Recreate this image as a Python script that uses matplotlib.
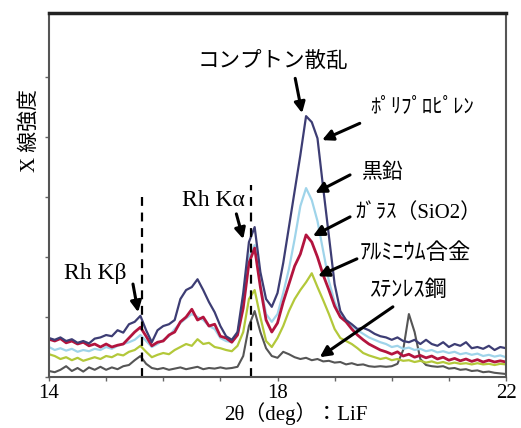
import numpy as np
import matplotlib.pyplot as plt

# ---------------- data ----------------
two_theta = np.round(np.arange(14.0, 22.01, 0.1), 1)

polypropylene = [0.65, 0.62, 0.66, 0.60, 0.63, 0.57, 0.60, 0.56, 0.64, 0.66,
                 0.70, 0.68, 0.78, 0.74, 0.88, 0.92, 1.02, 0.78, 0.58, 0.78,
                 0.85, 0.88, 0.95, 1.30, 1.45, 1.50, 1.63, 1.45, 1.25, 1.08,
                 0.85, 0.68, 0.62, 0.75, 1.40, 2.25, 2.50, 1.75, 1.30, 1.17,
                 1.40, 1.90, 2.50, 3.10, 3.70, 4.35, 4.25, 3.98, 3.15, 2.35,
                 1.55, 1.10, 0.95, 0.88, 0.80, 0.82, 0.78, 0.72, 0.68, 0.66,
                 0.62, 0.66, 0.60, 0.58, 0.62, 0.55, 0.62, 0.55, 0.52, 0.58,
                 0.50, 0.55, 0.52, 0.58, 0.48, 0.50, 0.47, 0.52, 0.45, 0.50,
                 0.48]

graphite = [0.50, 0.45, 0.48, 0.44, 0.47, 0.42, 0.45, 0.43, 0.47, 0.45,
            0.50, 0.47, 0.52, 0.55, 0.58, 0.62, 0.70, 0.60, 0.50, 0.55,
            0.62, 0.68, 0.80, 0.90, 0.98, 1.05, 1.00, 0.95, 0.85, 0.80,
            0.65, 0.60, 0.58, 0.72, 1.25, 2.00, 2.20, 1.55, 1.05, 0.92,
            1.05, 1.40, 1.80, 2.30, 2.85, 3.15, 2.95, 2.60, 2.10, 1.60,
            1.25, 1.05, 0.95, 0.85, 0.78, 0.72, 0.66, 0.62, 0.58, 0.55,
            0.50, 0.52, 0.47, 0.49, 0.45, 0.47, 0.43, 0.45, 0.41, 0.43,
            0.40, 0.42, 0.38, 0.40, 0.37, 0.39, 0.35, 0.37, 0.34, 0.36,
            0.33]

glass = [0.63, 0.60, 0.64, 0.57, 0.60, 0.55, 0.58, 0.52, 0.55, 0.50,
         0.55, 0.50, 0.53, 0.55, 0.65, 0.75, 0.83, 0.68, 0.52, 0.58,
         0.60, 0.70, 0.75, 0.92, 1.00, 1.13, 0.95, 1.00, 0.85, 0.88,
         0.68, 0.65, 0.58, 0.70, 1.15, 1.90, 2.15, 1.50, 0.95, 0.75,
         0.90, 1.25, 1.55, 1.85, 2.05, 2.37, 2.25, 2.00, 1.70, 1.45,
         1.18, 1.00, 0.92, 0.80, 0.70, 0.62, 0.55, 0.50, 0.45, 0.42,
         0.38, 0.42, 0.35, 0.38, 0.33, 0.36, 0.32, 0.35, 0.30, 0.33,
         0.28, 0.31, 0.27, 0.30, 0.26, 0.29, 0.25, 0.28, 0.25, 0.27,
         0.25]

aluminium = [0.38, 0.35, 0.30, 0.33, 0.28, 0.32, 0.27, 0.30, 0.33, 0.30,
             0.35, 0.33, 0.38, 0.36, 0.42, 0.45, 0.52, 0.42, 0.33, 0.37,
             0.40, 0.38, 0.45, 0.50, 0.55, 0.52, 0.63, 0.55, 0.57, 0.50,
             0.48, 0.45, 0.43, 0.52, 0.75, 1.30, 1.45, 1.00, 0.60, 0.50,
             0.65, 0.85, 1.10, 1.30, 1.45, 1.58, 1.73, 1.50, 1.28, 1.05,
             0.80, 0.65, 0.60, 0.55, 0.48, 0.40, 0.36, 0.33, 0.30, 0.32,
             0.28, 0.30, 0.27, 0.28, 0.25, 0.27, 0.24, 0.26, 0.23, 0.25,
             0.22, 0.24, 0.22, 0.23, 0.21, 0.23, 0.21, 0.22, 0.20, 0.22,
             0.21]

stainless = [0.10, 0.08, 0.12, 0.18, 0.10, 0.15, 0.09, 0.16, 0.12, 0.17,
             0.12, 0.16, 0.13, 0.18, 0.20, 0.28, 0.35, 0.22, 0.15, 0.13,
             0.15, 0.12, 0.14, 0.16, 0.13, 0.15, 0.17, 0.13, 0.15, 0.14,
             0.16, 0.14, 0.15, 0.17, 0.35, 0.85, 1.10, 0.75, 0.48, 0.35,
             0.32, 0.42, 0.38, 0.33, 0.30, 0.32, 0.28, 0.30, 0.26, 0.27,
             0.24, 0.25, 0.21, 0.23, 0.20, 0.21, 0.18, 0.17, 0.18, 0.17,
             0.18, 0.22, 0.45, 1.05, 0.75, 0.30, 0.20, 0.18, 0.17, 0.18,
             0.14, 0.15, 0.12, 0.13, 0.10, 0.11, 0.08, 0.09, 0.07, 0.06,
             0.05]

rh_lines = [15.63, 17.54]
rh_tops = [3.08, 3.2]

# labels: text, text position, arrow tail, arrow tip
labels = [
    ("コンプトン散乱", (17.92, 5.23), (18.31, 4.98), (18.43, 4.40)),
    ("ﾎﾟﾘﾌﾟﾛﾋﾟﾚﾝ", (20.53, 4.50), (19.44, 4.23), (18.78, 3.95)),
    ("黒鉛", (19.85, 3.40), (19.27, 3.37), (18.66, 3.07)),
    ("ｶﾞﾗｽ（SiO2）", (20.46, 2.73), (19.27, 2.67), (18.62, 2.35)),
    ("ｱﾙﾐﾆｳﾑ合金", (20.41, 2.05), (19.39, 1.97), (18.71, 1.68)),
    ("ｽﾃﾝﾚｽ鋼", (20.30, 1.43), (20.02, 1.17), (18.74, 0.33)),
    ("Rh Kβ", (14.81, 1.72), (15.47, 1.55), (15.56, 1.08)),
    ("Rh Kα", (16.87, 2.95), (17.28, 2.72), (17.40, 2.30)),
]
label_sizes = [15.5, 15, 15, 15, 16, 16, 17, 17]

# ---------------- plot ----------------
fam = ['Liberation Serif', 'Noto Sans CJK JP']
plt.rcParams['font.family'] = fam

fig = plt.figure(figsize=(5.21, 4.28), dpi=100)
ax = fig.add_axes([49/521, 51/428, 457/521, 364/428])

ax.plot(two_theta, stainless, color='#555555', lw=1.5)
ax.plot(two_theta, aluminium, color='#b3c83a', lw=1.6)
ax.plot(two_theta, graphite, color='#9fd4ea', lw=1.6)
ax.plot(two_theta, glass, color='#b3143e', lw=2.0)
ax.plot(two_theta, polypropylene, color='#3d3d74', lw=1.6)

for x, top in zip(rh_lines, rh_tops):
    ax.plot([x, x], [0, top], color='black', lw=1.6, ls=(0, (4, 3)))

for (txt, pos, tail, tip), fs in zip(labels, label_sizes):
    ax.text(pos[0], pos[1], txt, fontsize=fs, ha='center', va='center', family=fam)
    ax.annotate('', xy=tip, xytext=tail,
                arrowprops=dict(arrowstyle='-|>', color='black', lw=2.2,
                                mutation_scale=16, shrinkA=0, shrinkB=0))

ax.set_xlim(14, 22)
ax.set_ylim(0, 6.07)
ax.set_xticks(range(14, 23))
ax.set_xticklabels(['14', '', '', '', '18', '', '', '', '22'], fontsize=15)
ax.set_yticks(range(0, 6))
ax.set_yticklabels([])
ax.tick_params(direction='out', length=3, width=1, color='#666666', pad=2)

for s in ['left', 'bottom', 'right']:
    ax.spines[s].set_color('#555555')
    ax.spines[s].set_linewidth(1.5)
ax.spines['top'].set_linewidth(2.5)
ax.spines['top'].set_color('#222222')

fig.text(0.058, 0.696, 'X 線強度', rotation=90, fontsize=15, ha='center', va='center')
fig.text(0.568, 0.033, '2θ（deg）：LiF', fontsize=15, ha='center', va='center')

fig.savefig('out.png', dpi=100)
